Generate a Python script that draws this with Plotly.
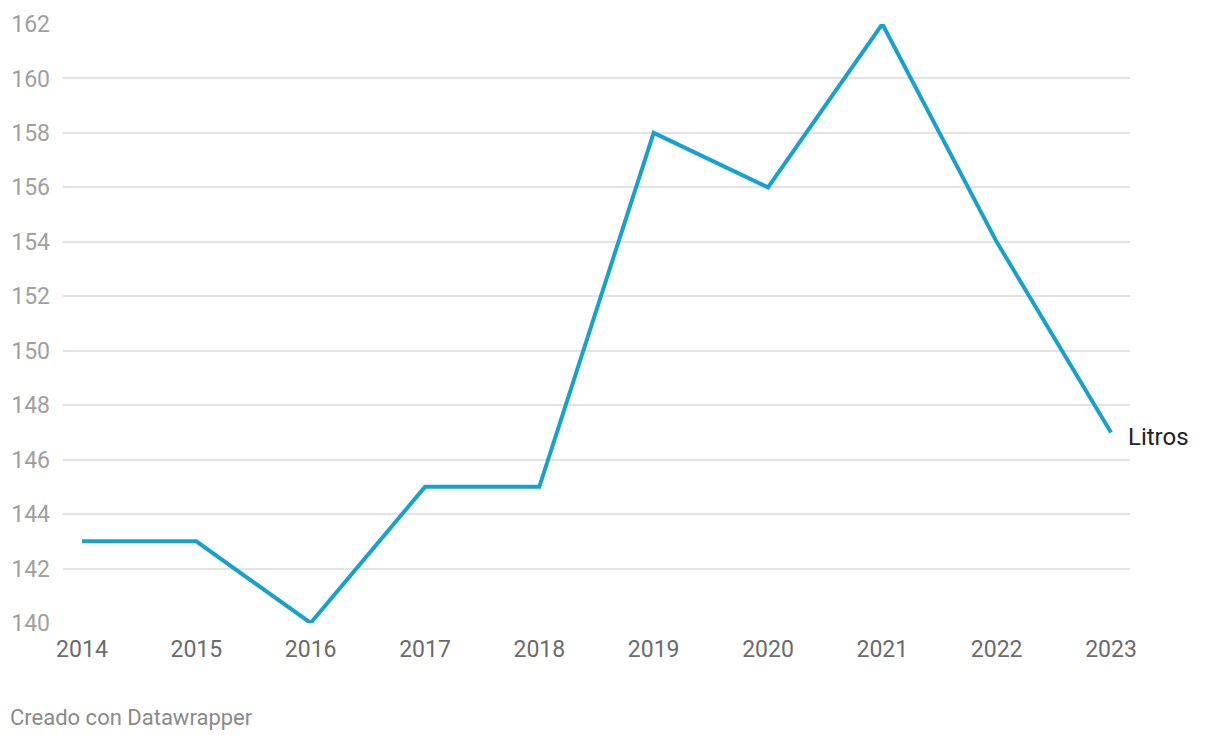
import plotly.graph_objects as go

years = [2014, 2015, 2016, 2017, 2018, 2019, 2020, 2021, 2022, 2023]
litros = [143, 143, 140, 145, 145, 158, 156, 162, 154, 147]
y_ticks = [140, 142, 144, 146, 148, 150, 152, 154, 156, 158, 160, 162]
series_name = "Litros"

fig = go.Figure()
fig.add_trace(go.Scatter(
    x=years, y=litros, mode="lines", name=series_name,
    line=dict(color="#18a1cd", width=4), cliponaxis=False,
    hoverinfo="x+y"))

fig.add_annotation(x=years[-1], y=litros[-1], text=series_name, showarrow=False,
                   xanchor="left", yanchor="middle", xshift=15, yshift=-5,
                   font=dict(family="Roboto", size=24, color="#222222"))

fig.add_annotation(xref="paper", yref="paper", x=0, y=0, xshift=-55, yshift=-94,
                   text="Creado con Datawrapper", showarrow=False,
                   xanchor="left", yanchor="middle",
                   font=dict(family="Roboto", size=22, color="#8a8a8a"))

fig.update_layout(
    width=1212, height=732,
    margin=dict(l=55, r=90, t=16, b=117),
    plot_bgcolor="white", paper_bgcolor="white",
    showlegend=False,
    font=dict(family="Roboto"),
    xaxis=dict(range=[2013.834, 2023.166], tickvals=years, automargin=False,
               ticktext=[str(y) for y in years], showgrid=False, zeroline=False,
               showline=False, ticks="", ticklabelstandoff=10,
               tickfont=dict(family="Roboto", size=23, color="#6b6b6b")),
    yaxis=dict(range=[140, 162], tickvals=y_ticks, showgrid=True, automargin=False,
               gridcolor="#e3e3e3", gridwidth=1.5, zeroline=False, showline=False,
               ticks="", ticklabelstandoff=12,
               tickfont=dict(family="Roboto", size=23, color="#a0a0a0")),
)

fig.write_html("out.html")
